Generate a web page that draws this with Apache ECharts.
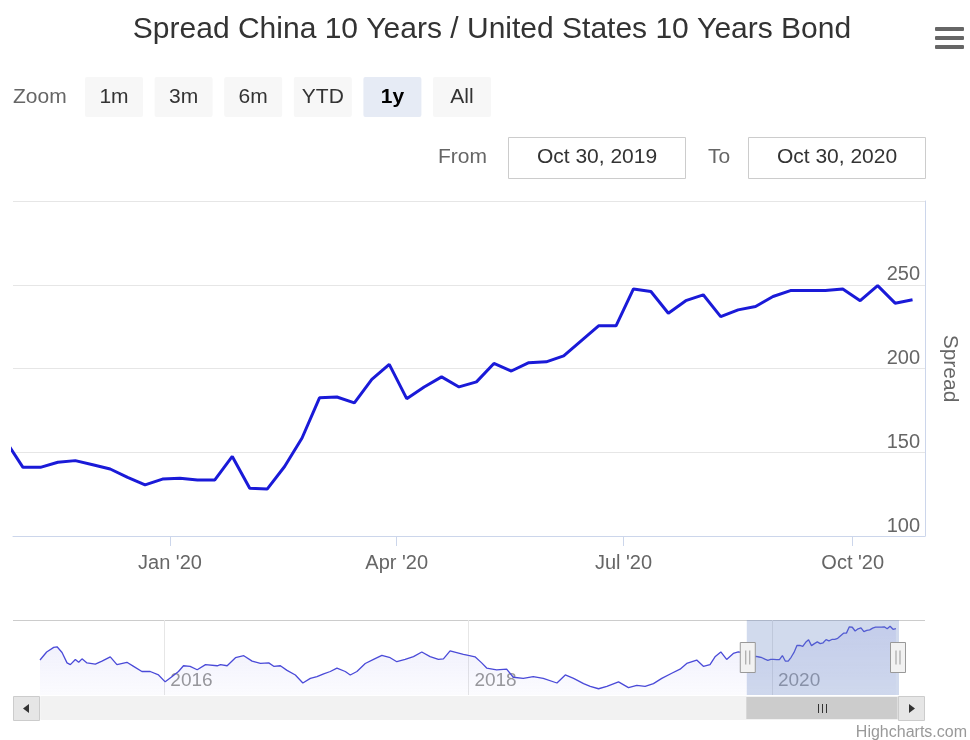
<!DOCTYPE html>
<html lang="en" style="height: 100%">
<head>
  <meta charset="utf-8">
</head>
<body style="height: 100%; margin: 0">
  <div id="container" style="width: 970px; height: 740px"></div>

  <script type="text/javascript" src="https://cdn.jsdelivr.net/npm/echarts@6.0.0/dist/echarts.min.js"></script>
  <script>
    // history read off the navigator (roughly twice a month)
    var histDates = ['2015-03-08','2015-03-24','2015-04-10','2015-04-18','2015-04-30','2015-05-12','2015-05-20','2015-06-01','2015-06-09','2015-06-17','2015-06-29','2015-07-19','2015-08-04','2015-08-24','2015-09-09','2015-10-03','2015-10-19','2015-11-08','2015-11-28','2015-12-18',
      '2016-01-03','2016-01-19','2016-02-04','2016-02-16','2016-03-03','2016-03-20','2016-04-09','2016-05-07','2016-05-15','2016-05-31','2016-06-20','2016-07-10','2016-07-30','2016-08-19','2016-09-08','2016-09-20','2016-10-06','2016-10-22','2016-11-11','2016-11-29','2016-12-17',
      '2017-01-02','2017-01-18','2017-02-03','2017-02-19','2017-03-11','2017-03-23','2017-04-08','2017-04-28','2017-05-18','2017-06-07','2017-06-27','2017-07-13','2017-08-02','2017-08-22','2017-09-11','2017-10-01','2017-10-21','2017-11-02','2017-11-18','2017-12-04','2017-12-20',
      '2018-01-01','2018-01-17','2018-02-02','2018-02-14','2018-03-10','2018-04-03','2018-04-19','2018-05-13','2018-06-06','2018-06-30','2018-08-02','2018-08-22','2018-09-11','2018-10-05','2018-10-21','2018-11-10','2018-11-30','2018-12-28',
      '2019-01-21','2019-02-10','2019-03-02','2019-03-22','2019-04-11','2019-05-05','2019-05-25','2019-06-10','2019-07-04','2019-07-20','2019-08-05','2019-08-17','2019-08-31','2019-09-14','2019-09-30','2019-10-12'];
    var histValues = [132,160,176,178,158,122,116,134,124,136,122,118,128,143,116,124,110,92,92,80,
      56,74,92,112,110,98,116,112,116,112,140,147,128,120,122,110,112,96,80,52,68,
      74,84,92,104,92,80,92,120,134,148,140,126,134,144,160,144,134,136,164,158,152,
      148,143,122,104,98,100,72,68,74,68,52,80,68,50,40,32,40,56,
      36,44,40,50,68,86,100,120,132,110,116,143,160,134,155,160];

    // weekly values of the last year (main chart)
    var weekDates = ['2019-10-27','2019-11-03','2019-11-10','2019-11-17','2019-11-24','2019-12-01','2019-12-08','2019-12-15','2019-12-22','2019-12-29',
      '2020-01-05','2020-01-12','2020-01-19','2020-01-26','2020-02-02','2020-02-09','2020-02-16','2020-02-23','2020-03-01','2020-03-08','2020-03-15','2020-03-22','2020-03-29',
      '2020-04-05','2020-04-12','2020-04-19','2020-04-26','2020-05-03','2020-05-10','2020-05-17','2020-05-24','2020-05-31','2020-06-07','2020-06-14','2020-06-21','2020-06-28',
      '2020-07-05','2020-07-12','2020-07-19','2020-07-26','2020-08-02','2020-08-09','2020-08-16','2020-08-23','2020-08-30','2020-09-06','2020-09-13','2020-09-20','2020-09-27',
      '2020-10-04','2020-10-11','2020-10-18','2020-10-25'];
    var weekValues = [157,141,141,144,145,142.5,140,135,130.5,134,
      134.5,133.5,133.5,147.5,128.5,128,141.5,158.5,182.5,183,179.5,193.5,202.5,
      182,189,195,189,192,203,198.5,203.5,204,207.5,216.5,225.5,225.5,
      247.5,246,233,240.5,244,231,235,237,243,246.5,246.5,246.5,247.5,
      240.5,249.5,239,241];

    var fromDate = '2019-10-30';
    var toDate = '2020-10-30';
    var mainTicks = ['2020-01-01', '2020-04-01', '2020-07-01', '2020-10-01'];
    var navTicks = ['2016-01-01', '2018-01-01', '2020-01-01'];
    var yTicks = [100, 150, 200, 250, 300];
    var rangeButtons = ['1m', '3m', '6m', 'YTD', '1y', 'All'];
    var selectedRange = '1y';

    var FONT = '"Liberation Sans", Arial, sans-serif';
    var MONTHS = ['Jan','Feb','Mar','Apr','May','Jun','Jul','Aug','Sep','Oct','Nov','Dec'];

    function t(s) {
      var p = s.split('-');
      return new Date(+p[0], +p[1] - 1, +p[2]).getTime();
    }
    function longDate(s) {
      var d = new Date(t(s));
      return MONTHS[d.getMonth()] + ' ' + d.getDate() + ', ' + d.getFullYear();
    }

    var allDates = histDates.concat(weekDates);
    var allValues = histValues.concat(weekValues);
    var seriesData = allDates.map(function (d, i) { return [t(d), allValues[i]]; });

    var axisMin = t(allDates[0]);
    var axisMax = t(toDate);

    var dom = document.getElementById('container');
    var myChart = echarts.init(dom, null, { renderer: 'canvas' });

    var elements = [];
    elements.push({ type: 'text', x: 13, y: 97, style: { text: 'Zoom', fill: '#666', fontSize: 21, fontFamily: FONT, align: 'left', verticalAlign: 'middle' } });
    rangeButtons.forEach(function (b, i) {
      var x = 85 + i * 69.6;
      var sel = b === selectedRange;
      elements.push({ type: 'rect', shape: { x: x, y: 77, width: 58, height: 40, r: 2 }, style: { fill: sel ? '#e6ebf5' : '#f7f7f7' } });
      elements.push({ type: 'text', x: x + 29, y: 97, style: { text: b, fill: sel ? '#000' : '#333', fontSize: 21, fontWeight: sel ? 'bold' : 'normal', fontFamily: FONT, align: 'center', verticalAlign: 'middle' } });
    });
    elements.push({ type: 'text', x: 438, y: 157, style: { text: 'From', fill: '#666', fontSize: 21, fontFamily: FONT, align: 'left', verticalAlign: 'middle' } });
    elements.push({ type: 'rect', shape: { x: 508.5, y: 137.5, width: 177, height: 41 }, style: { fill: '#fff', stroke: '#cccccc', lineWidth: 1 } });
    elements.push({ type: 'text', x: 597, y: 157, style: { text: longDate(fromDate), fill: '#333', fontSize: 21, fontFamily: FONT, align: 'center', verticalAlign: 'middle' } });
    elements.push({ type: 'text', x: 708, y: 157, style: { text: 'To', fill: '#666', fontSize: 21, fontFamily: FONT, align: 'left', verticalAlign: 'middle' } });
    elements.push({ type: 'rect', shape: { x: 748.5, y: 137.5, width: 177, height: 41 }, style: { fill: '#fff', stroke: '#cccccc', lineWidth: 1 } });
    elements.push({ type: 'text', x: 837, y: 157, style: { text: longDate(toDate), fill: '#333', fontSize: 21, fontFamily: FONT, align: 'center', verticalAlign: 'middle' } });
    // menu icon
    [29, 38, 47].forEach(function (y) {
      elements.push({ type: 'rect', shape: { x: 935, y: y - 2, width: 29, height: 4, r: 1 }, style: { fill: '#666' } });
    });
    // navigator outline + scrollbar buttons
    elements.push({ type: 'line', shape: { x1: 13, y1: 620.5, x2: 925, y2: 620.5 }, style: { stroke: '#cccccc', lineWidth: 1 } });
    elements.push({ type: 'rect', z: 10, shape: { x: 13.5, y: 696.5, width: 26, height: 24 }, style: { fill: '#e6e6e6', stroke: '#cccccc', lineWidth: 1 } });
    elements.push({ type: 'polygon', z: 11, shape: { points: [[29, 704], [29, 713], [23, 708.5]] }, style: { fill: '#333' } });
    elements.push({ type: 'rect', z: 10, shape: { x: 898.5, y: 696.5, width: 26, height: 24 }, style: { fill: '#e6e6e6', stroke: '#cccccc', lineWidth: 1 } });
    elements.push({ type: 'polygon', z: 11, shape: { points: [[909, 704], [909, 713], [915, 708.5]] }, style: { fill: '#333' } });
    [818.5, 822.5, 826.5].forEach(function (x) {
      elements.push({ type: 'line', z: 11, shape: { x1: x, y1: 704, x2: x, y2: 713 }, style: { stroke: '#333', lineWidth: 1 } });
    });
    elements.push({ type: 'text', x: 967, y: 733, style: { text: 'Highcharts.com', fill: '#999', fontSize: 16, fontFamily: FONT, align: 'right', verticalAlign: 'middle' } });

    var option = {
      animation: false,
      textStyle: { fontFamily: FONT },
      title: {
        text: 'Spread China 10 Years / United States 10 Years Bond',
        left: 487,
        top: 10,
        textAlign: 'center',
        textStyle: { fontSize: 30, fontWeight: 'normal', color: '#333', fontFamily: FONT }
      },
      grid: [
        { left: 13, right: 45, top: 201, bottom: 204 },
        { left: 40, right: 72, top: 620, height: 75 }
      ],
      xAxis: [
        {
          type: 'value',
          gridIndex: 0,
          min: axisMin,
          max: axisMax,
          axisLine: { lineStyle: { color: '#ccd6eb' } },
          axisTick: { show: true, length: 10, lineStyle: { color: '#ccd6eb' }, customValues: mainTicks.map(t) },
          axisLabel: {
            customValues: mainTicks.map(t),
            color: '#666',
            fontSize: 20,
            margin: 17,
            formatter: function (v) {
              var d = new Date(v);
              return MONTHS[d.getMonth()] + " '" + String(d.getFullYear()).slice(2);
            }
          },
          splitLine: { show: false }
        },
        {
          type: 'value',
          gridIndex: 1,
          min: axisMin,
          max: axisMax,
          axisLine: { show: false },
          axisTick: { show: false, customValues: navTicks.map(t) },
          axisLabel: {
            customValues: navTicks.map(t),
            inside: true,
            align: 'left',
            margin: 5,
            padding: [0, 0, 0, 6],
            color: '#999',
            fontSize: 19,
            formatter: function (v) { return String(new Date(v).getFullYear()); }
          },
          splitLine: { show: true, lineStyle: { color: '#e6e6e6' } }
        }
      ],
      yAxis: [
        {
          type: 'value',
          gridIndex: 0,
          position: 'right',
          min: yTicks[0],
          max: yTicks[yTicks.length - 1],
          interval: 50,
          name: 'Spread',
          nameLocation: 'middle',
          nameGap: 14,
          nameRotate: -90,
          nameTextStyle: { color: '#666', fontSize: 21 },
          axisLine: { show: true, lineStyle: { color: '#ccd6eb' } },
          axisTick: { show: false },
          axisLabel: {
            inside: true,
            margin: 5,
            verticalAlign: 'bottom',
            padding: [0, 0, 0, 0],
            color: '#666',
            fontSize: 20,
            showMaxLabel: false
          },
          splitLine: { lineStyle: { color: '#e6e6e6' } }
        },
        {
          type: 'value',
          gridIndex: 1,
          show: false,
          min: function (v) { return v.min - 0.1 * (v.max - v.min); },
          max: function (v) { return v.max + 0.1 * (v.max - v.min); },
          splitLine: { show: false }
        }
      ],
      dataZoom: [
        {
          type: 'slider',
          xAxisIndex: 0,
          filterMode: 'none',
          startValue: t(fromDate),
          endValue: t(toDate),
          left: 40,
          right: 72,
          top: 620,
          height: 75,
          showDataShadow: false,
          showDetail: false,
          brushSelect: false,
          backgroundColor: 'rgba(0,0,0,0)',
          borderColor: 'rgba(0,0,0,0)',
          fillerColor: 'rgba(102,133,194,0.3)',
          handleIcon: 'path://M0,0 L15,0 L15,30 L0,30 Z M5.5,8 L5.5,22 M9.5,8 L9.5,22',
          handleSize: '40%',
          handleStyle: { color: '#f2f2f2', borderColor: '#999999', borderWidth: 1 },
          moveHandleSize: 0
        },
        {
          type: 'slider',
          xAxisIndex: 0,
          filterMode: 'none',
          startValue: t(fromDate),
          endValue: t(toDate),
          left: 40,
          right: 72,
          top: 696,
          height: 24,
          showDataShadow: false,
          showDetail: false,
          brushSelect: false,
          backgroundColor: '#f2f2f2',
          borderColor: '#f2f2f2',
          fillerColor: '#cccccc',
          handleIcon: 'path://M0,0 L1,0 L1,24 L0,24 Z',
          handleSize: '100%',
          handleStyle: { opacity: 0 },
          moveHandleSize: 0
        }
      ],
      graphic: { elements: elements },
      series: [
        {
          name: 'Spread',
          type: 'line',
          xAxisIndex: 0,
          yAxisIndex: 0,
          data: seriesData,
          showSymbol: false,
          clip: true,
          lineStyle: { color: '#1a1ad8', width: 3 },
          itemStyle: { color: '#1a1ad8' }
        },
        {
          name: 'Navigator',
          type: 'line',
          xAxisIndex: 1,
          yAxisIndex: 1,
          data: seriesData,
          showSymbol: false,
          lineStyle: { color: '#4a4ad8', width: 1.3 },
          areaStyle: {
            origin: 'start',
            color: new echarts.graphic.LinearGradient(0, 0, 0, 1, [
              { offset: 0, color: 'rgba(90,90,225,0.16)' },
              { offset: 1, color: 'rgba(90,90,225,0.03)' }
            ])
          }
        }
      ]
    };

    if (option && typeof option === 'object') {
      myChart.setOption(option);
    }

    window.addEventListener('resize', myChart.resize);
  </script>
</body>
</html>
